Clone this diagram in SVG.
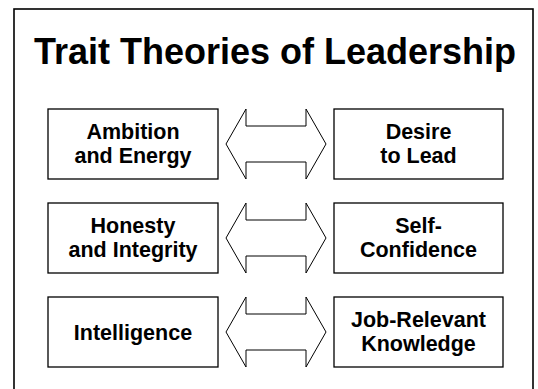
<svg xmlns="http://www.w3.org/2000/svg" width="538" height="389" viewBox="0 0 538 389">
<style>
.frame{fill:#fff;stroke:#000;stroke-width:1.6}
.box{fill:#fff;stroke:#000;stroke-width:1.3}
.arrow{fill:#fff;stroke:#000;stroke-width:1}
.t{font-family:"Liberation Sans",Arial,sans-serif;font-weight:bold;fill:#000;text-anchor:middle}
.title{font-size:36px}
.lbl{font-size:21.5px}
</style>
<defs>
<polygon id="dbl" class="arrow" points="226,144 246,109 246,126 306,126 306,109 326,144 306,179 306,162 246,162 246,179"/>
</defs>
<rect width="538" height="389" fill="#fff"/>
<rect class="frame" x="14" y="9" width="519" height="400"/>
<g id="title"><text class="t title" x="275" y="64">Trait Theories of Leadership</text></g>
<g id="connectors">
<use href="#dbl"/>
<use href="#dbl" transform="translate(0,94)"/>
<use href="#dbl" transform="translate(0,188)"/>
</g>
<g id="ambition"><rect class="box" x="48" y="109" width="170" height="70"/><text class="t lbl" x="133" y="139">Ambition</text><text class="t lbl" x="133" y="162.5">and Energy</text></g>
<g id="desire"><rect class="box" x="334" y="109" width="169" height="70"/><text class="t lbl" x="418.5" y="139">Desire</text><text class="t lbl" x="418.5" y="162.5">to Lead</text></g>
<g id="honesty"><rect class="box" x="48" y="203" width="170" height="70"/><text class="t lbl" x="133" y="233">Honesty</text><text class="t lbl" x="133" y="256.5">and Integrity</text></g>
<g id="confidence"><rect class="box" x="334" y="203" width="169" height="70"/><text class="t lbl" x="418.5" y="233">Self-</text><text class="t lbl" x="418.5" y="256.5">Confidence</text></g>
<g id="intelligence"><rect class="box" x="48" y="297" width="170" height="70"/><text class="t lbl" x="133" y="339.5">Intelligence</text></g>
<g id="knowledge"><rect class="box" x="334" y="297" width="169" height="70"/><text class="t lbl" x="418.5" y="327">Job-Relevant</text><text class="t lbl" x="418.5" y="350.5">Knowledge</text></g>
</svg>
